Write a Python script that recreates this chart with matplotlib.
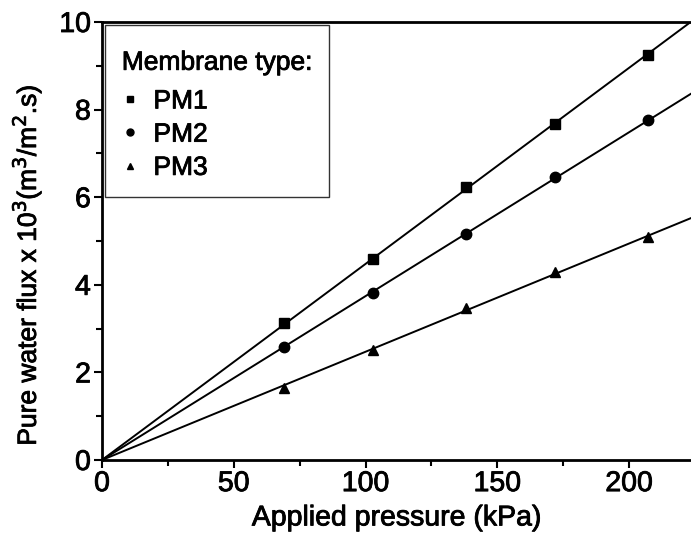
import numpy as np
import matplotlib
matplotlib.use("Agg")
import matplotlib.pyplot as plt
from matplotlib.ticker import MultipleLocator
from matplotlib.lines import Line2D
import matplotlib.patheffects as pe

pressure = [69, 103, 138, 172, 207]
pm1 = [3.13, 4.60, 6.24, 7.66, 9.25]
pm2 = [2.59, 3.81, 5.15, 6.45, 7.76]
pm3 = [1.64, 2.51, 3.46, 4.30, 5.08]
series_names = ["PM1", "PM2", "PM3"]
markers = ["s", "o", "^"]

plt.rcParams['font.family'] = ['Liberation Sans', 'DejaVu Sans']
thick = [pe.withStroke(linewidth=0.6, foreground='black')]

fig = plt.figure(figsize=(6.91, 5.54), dpi=100)
ax = fig.add_axes([0.1476, 0.1697, 0.8524, 0.7906])

x = np.array(pressure, dtype=float)
xline = np.array([0, 224.0])
handles = []
for name, vals, m in zip(series_names, [pm1, pm2, pm3], markers):
    y = np.array(vals)
    slope = np.sum(x * y) / np.sum(x * x)
    ax.plot(xline, slope * xline, color='black', lw=1.4, zorder=2)
    ms = 6.5 if m == 's' else 7.5
    ax.plot(x, y, linestyle='none', marker=m, color='black', ms=ms, zorder=3)
    handles.append(Line2D([], [], linestyle='none', marker=m, color='black', ms=5, label=name))

ax.set_xlim(0, 223.5)
ax.set_ylim(0, 10)
ax.xaxis.set_major_locator(MultipleLocator(50))
ax.xaxis.set_minor_locator(MultipleLocator(25))
ax.yaxis.set_major_locator(MultipleLocator(2))
ax.yaxis.set_minor_locator(MultipleLocator(1))
ax.tick_params(which='major', direction='out', length=6, width=1.5, labelsize=20.5, pad=2)
ax.tick_params(which='minor', direction='out', length=4, width=1.5)
for lab in ax.get_xticklabels() + ax.get_yticklabels():
    lab.set_path_effects(thick)
for s in ['left', 'bottom', 'top']:
    ax.spines[s].set_linewidth(2)
ax.spines['right'].set_visible(False)

ax.set_xlabel("Applied pressure (kPa)", fontsize=20.5, labelpad=6, path_effects=thick)
ax.set_ylabel("Pure water flux x 10$^3$(m$^3$/m$^2$.s)", fontsize=19, path_effects=thick)
ax.yaxis.set_label_coords(-0.10, 0.445)

leg = ax.legend(handles=handles, title="Membrane type:", loc='upper left',
                fontsize=19, title_fontsize=19, frameon=True, fancybox=False,
                edgecolor='black', handlelength=0.6, handletextpad=0.6,
                labelspacing=0.35, borderpad=0.65, borderaxespad=0.1)
leg._legend_box.align = "left"
leg._legend_box.sep = 17
leg.get_frame().set_linewidth(1.0)
leg.get_title().set_path_effects(thick)
leg.get_title().set_position((0, -9))
for t in leg.get_texts():
    t.set_path_effects(thick)

fig.savefig("out.png", dpi=100)
